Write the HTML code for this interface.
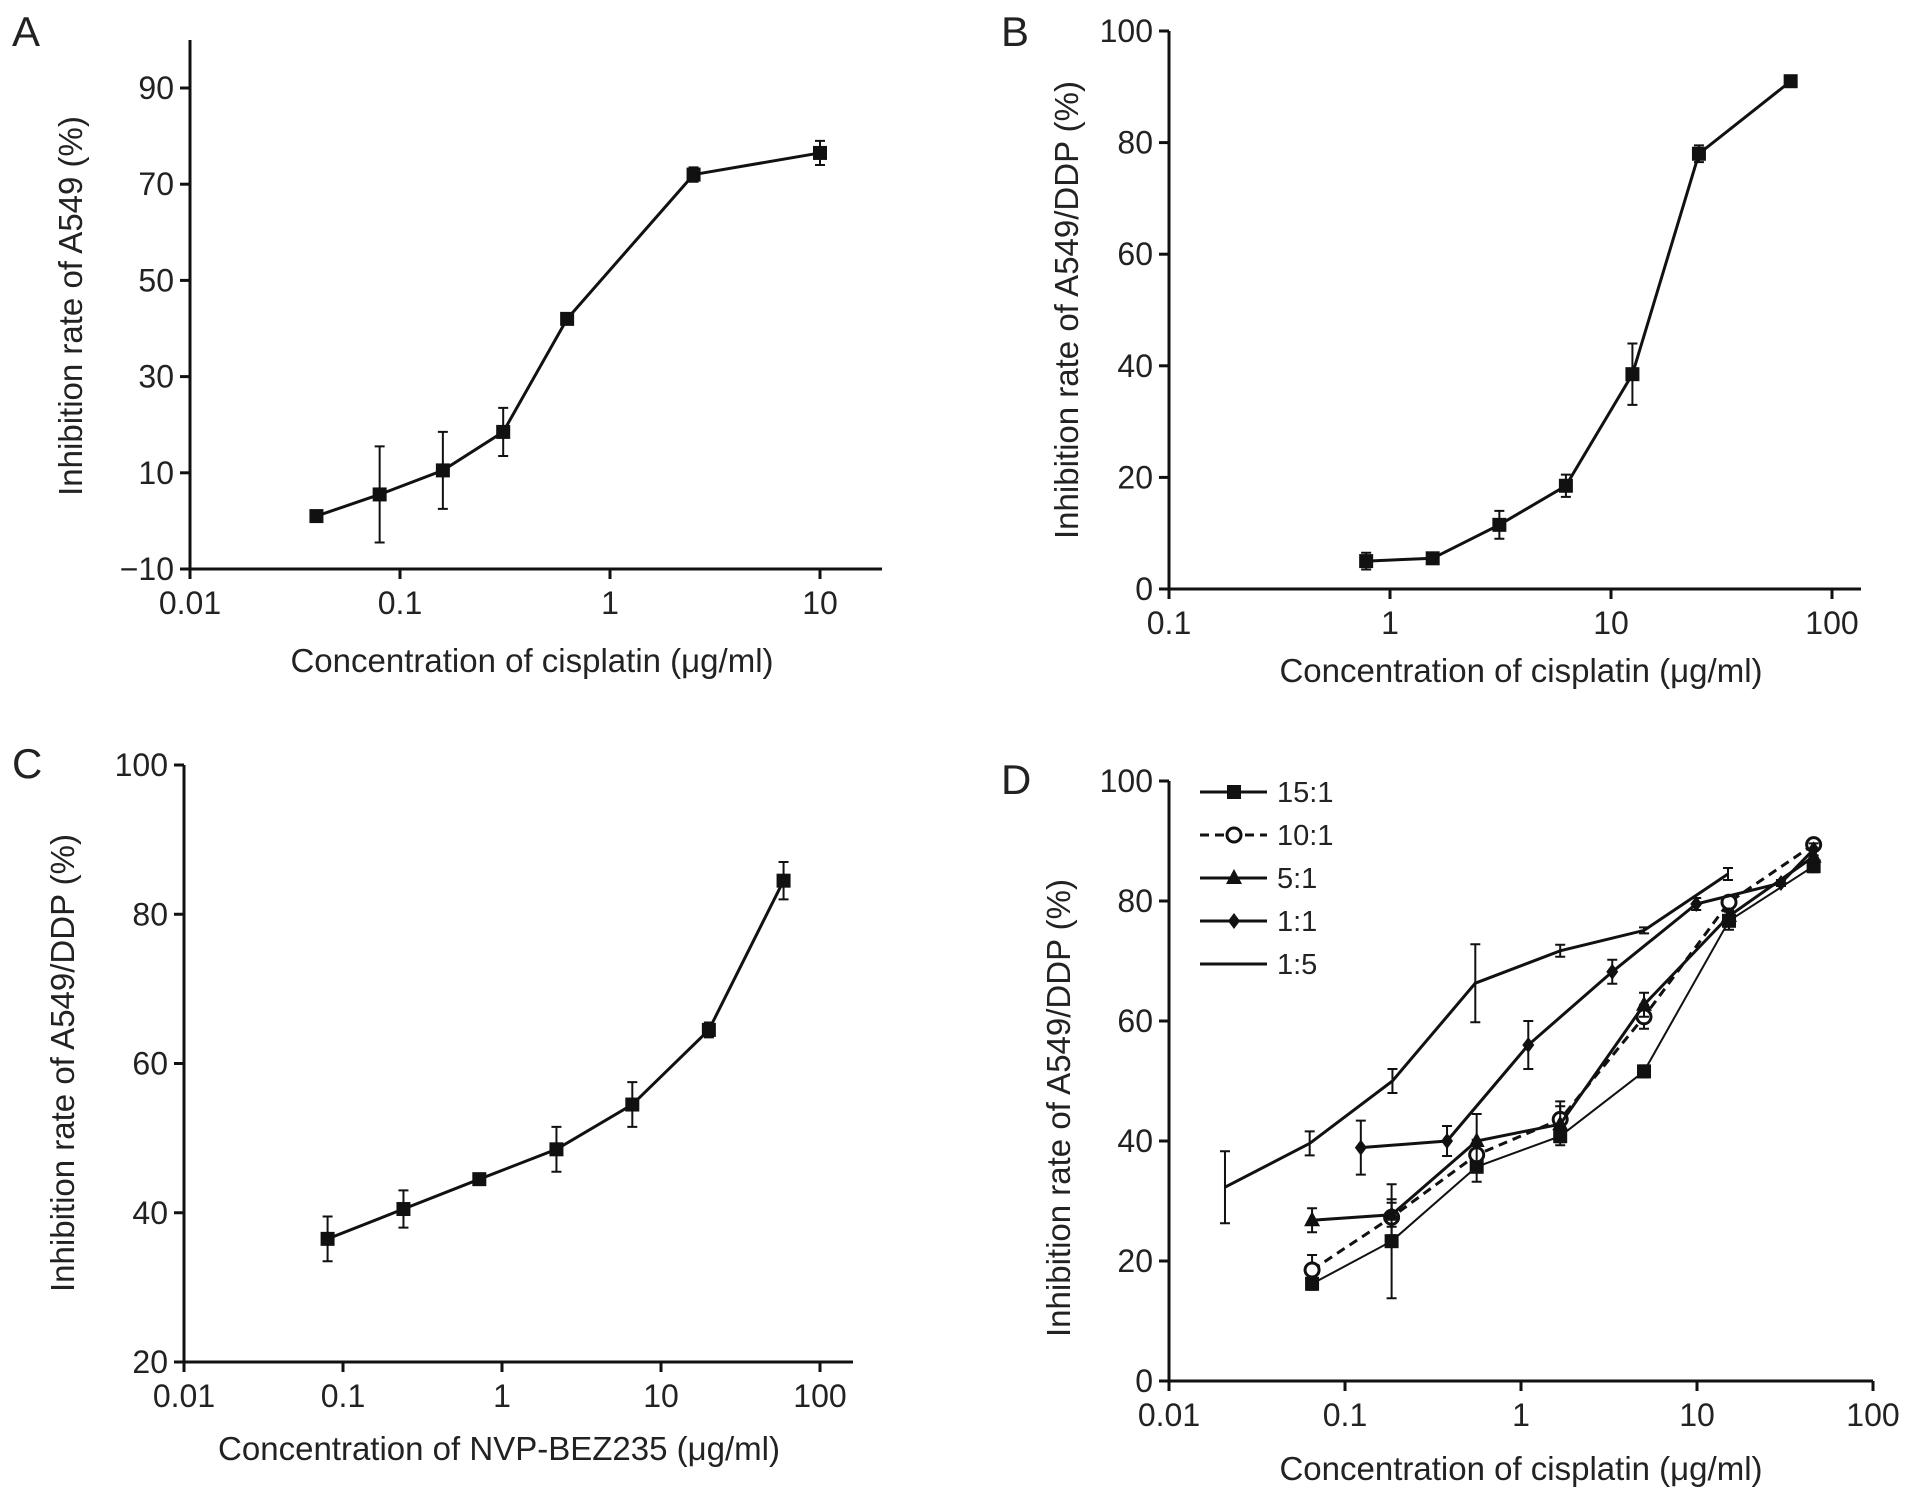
<!DOCTYPE html>
<html><head><meta charset="utf-8"><style>
body{margin:0;background:#fff}
svg text{font-family:"Liberation Sans",sans-serif;fill:#222}
</style></head><body>
<svg id="fig" width="1913" height="1496" viewBox="0 0 1913 1496" xmlns="http://www.w3.org/2000/svg"></svg>
<script>
// Panel A
const aX=[0.04,0.08,0.16,0.31,0.625,2.5,10];
const aY=[1,5.5,10.5,18.5,42,72,76.5];
const aE=[1,10,8,5,1,1.5,2.5];
// Panel B
const bX=[0.78,1.56,3.125,6.25,12.5,25,65];
const bY=[5,5.5,11.5,18.5,38.5,78,91];
const bE=[1.5,0.5,2.5,2,5.5,1.5,0.5];
// Panel C
const cX=[0.08,0.24,0.72,2.2,6.6,20,59];
const cY=[36.5,40.5,44.5,48.5,54.5,64.5,84.5];
const cE=[3,2.5,0.5,3,3,1,2.5];
// Panel D
const dX15=[0.065,0.184,0.56,1.67,5,15.2,46];
const dY15=[16.2,23.3,35.7,40.8,51.6,76.7,85.8];
const dE15=[1,9.5,2.5,1.5,1,1.5,1];
const dX10=[0.065,0.184,0.56,1.67,5,15.2,46];
const dY10=[18.5,27.3,37.7,43.6,60.7,79.8,89.4];
const dE10=[2.5,3,2.5,3,2,1,1];
const dX5=[0.065,0.184,0.56,1.67,5,15.2,46];
const dY5=[26.8,27.7,40,42.8,62.7,77.5,87.4];
const dE5=[2,2,4.5,3,2,1,1];
const dX11=[0.123,0.38,1.1,3.3,9.9,30,46];
const dY11=[38.9,40,56,68.2,79.5,83,88.6];
const dE11=[4.5,2.5,4,2,1,0.5,1];
const dX55=[0.0208,0.063,0.186,0.55,1.67,5,15];
const dY55=[32.3,39.6,50,66.3,71.7,75.1,84.5];
const dE55=[6,2,2,6.5,1,0.5,1];

const NS="http://www.w3.org/2000/svg";
const svg=document.getElementById('fig');
function mk(tag,attrs,parent,txt){const e=document.createElementNS(NS,tag);for(const k in attrs)e.setAttribute(k,attrs[k]);if(txt!==undefined)e.textContent=txt;(parent||svg).appendChild(e);return e;}

function panel(cfg){
  const g=mk('g',{});
  
  
  const L=Math.log10;
  const sx=v=>cfg.x0+(L(v)-L(cfg.xmin))*cfg.dec;
  const sy=v=>cfg.yb-(v-cfg.ymin)*(cfg.yb-cfg.yt)/(cfg.ymax-cfg.ymin);
  const ax=mk('path',{d:`M${cfg.x0},${cfg.top} V${cfg.yb} H${cfg.xend}`,stroke:'#111','stroke-width':3,fill:'none'},g);
  
  
  cfg.yticks.forEach(t=>{const y=sy(t);
    mk('line',{x1:cfg.x0-10,x2:cfg.x0,y1:y,y2:y,stroke:'#111','stroke-width':3},g);
    const tx=mk('text',{x:cfg.x0-16,y:y+11,'text-anchor':'end','font-size':32},g,t<0?'\u221210':String(t));
    
    
  });
  cfg.xticks.forEach(t=>{const x=sx(t);
    mk('line',{x1:x,x2:x,y1:cfg.yb,y2:cfg.yb+10,stroke:'#111','stroke-width':3},g);
    const tx=mk('text',{x:x,y:cfg.yb+45,'text-anchor':'middle','font-size':32},g,String(t));
    
    
  });
  const xt=mk('text',{x:cfg.xtx,y:cfg.xty,'text-anchor':'middle','font-size':33},g,cfg.xtitle);
  
  
  const yt=mk('text',{x:0,y:0,'text-anchor':'middle','font-size':33,transform:`translate(${cfg.ytx},${cfg.yty}) rotate(-90)`},g,cfg.ytitle);
  
  
  const pl=mk('text',{x:cfg.lx,y:cfg.ly,'font-size':42},g,cfg.id);
  
  
  cfg.series.forEach(s=>{
    const sg=mk('g',{},g);
    
    
    const pts=s.x.map((v,i)=>[sx(v),sy(s.y[i])]);
    const ln=mk('polyline',{points:pts.map(p=>p.join(',')).join(' '),fill:'none',stroke:'#111','stroke-width':s.w||3,'stroke-dasharray':s.dash||'none'},sg);
    
    
    s.x.forEach((v,i)=>{
      const x=sx(v),y1=sy(s.y[i]+s.e[i]),y2=sy(s.y[i]-s.e[i]);
      const eb=mk('path',{d:`M${x},${y1}V${y2}M${x-5},${y1}H${x+5}M${x-5},${y2}H${x+5}`,stroke:'#111','stroke-width':2,fill:'none'},sg);
      
      
      const m=marker(s.m,x,sy(s.y[i]),sg);
      if(m){
      }
    });
  });
  return {g,sx,sy};
}
function marker(type,x,y,p){
  if(type==='sq')return mk('rect',{x:x-7,y:y-7,width:14,height:14,fill:'#111'},p);
  if(type==='circ')return mk('circle',{cx:x,cy:y,r:7,fill:'#fff',stroke:'#111','stroke-width':3},p);
  if(type==='tri')return mk('path',{d:`M${x},${y-9}L${x+8},${y+6}L${x-8},${y+6}Z`,fill:'#111'},p);
  if(type==='dia')return mk('path',{d:`M${x},${y-8}L${x+6},${y}L${x},${y+8}L${x-6},${y}Z`,fill:'#111'},p);
  return null;
}

panel({id:'A',x0:190,top:40,yb:569,yt:88,ymin:-10,ymax:90,xmin:0.01,dec:210,xend:882,
 yticks:[-10,10,30,50,70,90],xticks:[0.01,0.1,1,10],
 xtitle:'Concentration of cisplatin (\u03bcg/ml)',xtx:532,xty:672,
 ytitle:'Inhibition rate of A549 (%)',ytx:82,yty:306,lx:12,ly:46,
 series:[{name:'a549',x:aX,y:aY,e:aE,m:'sq'}]});
panel({id:'B',x0:1169,top:31,yb:589,yt:31,ymin:0,ymax:100,xmin:0.1,dec:221,xend:1861,
 yticks:[0,20,40,60,80,100],xticks:[0.1,1,10,100],
 xtitle:'Concentration of cisplatin (\u03bcg/ml)',xtx:1521,xty:682,
 ytitle:'Inhibition rate of A549/DDP (%)',ytx:1078,yty:310,lx:1001,ly:46,
 series:[{name:'a549-ddp',x:bX,y:bY,e:bE,m:'sq'}]});
panel({id:'C',x0:184,top:765,yb:1362,yt:765,ymin:20,ymax:100,xmin:0.01,dec:159,xend:853,
 yticks:[20,40,60,80,100],xticks:[0.01,0.1,1,10,100],
 xtitle:'Concentration of NVP-BEZ235 (\u03bcg/ml)',xtx:499,xty:1460,
 ytitle:'Inhibition rate of A549/DDP (%)',ytx:74,yty:1063,lx:12,ly:778,
 series:[{name:'nvp',x:cX,y:cY,e:cE,m:'sq'}]});
panel({id:'D',x0:1169,top:781,yb:1381,yt:781,ymin:0,ymax:100,xmin:0.01,dec:176,xend:1873,
 yticks:[0,20,40,60,80,100],xticks:[0.01,0.1,1,10,100],
 xtitle:'Concentration of cisplatin (\u03bcg/ml)',xtx:1521,xty:1480,
 ytitle:'Inhibition rate of A549/DDP (%)',ytx:1070,yty:1108,lx:1001,ly:794,
 series:[
  {name:'15-1',x:dX15,y:dY15,e:dE15,m:'sq',w:2},
  {name:'10-1',x:dX10,y:dY10,e:dE10,m:'circ',dash:'9,6'},
  {name:'5-1',x:dX5,y:dY5,e:dE5,m:'tri'},
  {name:'1-1',x:dX11,y:dY11,e:dE11,m:'dia'},
  {name:'1-5',x:dX55,y:dY55,e:dE55,m:'none'}]});

// Legend D
const legNames=['15:1','10:1','5:1','1:1','1:5'];
const legM=['sq','circ','tri','dia','none'];
const lg=mk('g',{});


legNames.forEach((n,i)=>{
  const y=792+i*43;
  const e=mk('g',{},lg);
  
  
  mk('line',{x1:1200,x2:1267,y1:y,y2:y,stroke:'#111','stroke-width':3,'stroke-dasharray':i===1?'9,6':'none'},e);
  marker(legM[i],1234,y,e);
  mk('text',{x:1277,y:y+10,'font-size':29},e,n);
});
</script>
</body></html>
